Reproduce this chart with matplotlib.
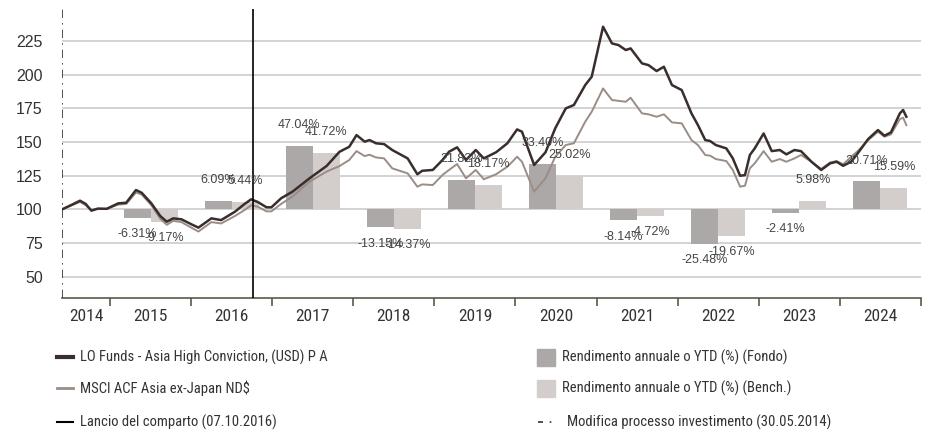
import matplotlib
matplotlib.use("Agg")
import matplotlib.pyplot as plt
from matplotlib import font_manager
from matplotlib.lines import Line2D
from matplotlib.patches import Rectangle

# time points (decimal years)
t = [2014.41, 2014.55, 2014.63, 2014.70, 2014.77, 2014.85, 2014.96, 2015.10, 2015.20, 2015.32,
     2015.39, 2015.51, 2015.62, 2015.70, 2015.78, 2015.88, 2016.00, 2016.09, 2016.25, 2016.37,
     2016.54, 2016.66, 2016.74, 2016.82, 2016.93, 2016.99, 2017.11, 2017.25, 2017.46, 2017.67,
     2017.83, 2017.95, 2018.04, 2018.14, 2018.20, 2018.28, 2018.38, 2018.48, 2018.67, 2018.79,
     2018.85, 2018.98, 2019.10, 2019.18, 2019.28, 2019.39, 2019.51, 2019.61, 2019.76, 2019.90,
     2020.02, 2020.08, 2020.23, 2020.37, 2020.49, 2020.62, 2020.72, 2020.86, 2020.94, 2021.08,
     2021.19, 2021.27, 2021.36, 2021.42, 2021.56, 2021.64, 2021.74, 2021.83, 2021.93, 2022.05,
     2022.17, 2022.25, 2022.34, 2022.40, 2022.47, 2022.60, 2022.68, 2022.77, 2022.83, 2022.89,
     2022.95, 2023.06, 2023.16, 2023.26, 2023.34, 2023.44, 2023.52, 2023.65, 2023.77, 2023.88,
     2023.96, 2024.04, 2024.14, 2024.22, 2024.35, 2024.47, 2024.55, 2024.63, 2024.74, 2024.78,
     2024.82]

fund = [100, 104, 106.4, 104, 99, 100.5, 100.4, 104.4, 104.9, 114.3,
        112.3, 104.4, 95, 90.8, 93.3, 92.6, 89, 86.4, 93.3, 92,
        98.2, 104, 107.4, 105.5, 101.5, 101.5, 108.2, 113.1, 123, 132.1,
        142.7, 146.4, 155.1, 150.2, 151.4, 149, 148.4, 144, 137.8, 126,
        128.6, 129.2, 136.6, 142.7, 146, 136.6, 144, 137.8, 142.3, 149,
        159.3, 157.6, 132.9, 142.3, 160.1, 174.9, 177.4, 192.2, 198.4, 235.5,
        223.1, 221.9, 218.2, 219.4, 208.3, 207, 202.6, 205.8, 192.2, 188.5,
        171.2, 162.5, 151.4, 150.7, 147.7, 145.2, 137.8, 124.9, 125.4, 140.3,
        145.2, 156.3, 143.2, 144, 140.8, 144, 143.2, 135.3, 129.2, 134.1,
        135.3, 132.3, 135.3, 141.5, 152.2, 158.8, 154.6, 157.1, 171.2, 173.7,
        168.7]

bench = [100, 103.5, 105.5, 103, 99.5, 100.5, 100.3, 103.5, 104, 112.5,
         111, 103, 93, 88.5, 91.5, 90.5, 86.5, 83.5, 90.5, 89.5,
         95, 99.5, 103, 102, 98.5, 98.5, 104, 109.5, 120.5, 128,
         132.1, 136.6, 143.2, 139.5, 140.5, 138.5, 137.8, 130.4, 126.7, 116.8,
         118.5, 118, 125.5, 129.2, 133.6, 123, 129.2, 122.3, 126, 131.6,
         139, 135.3, 113.1, 123, 139, 147.7, 149, 165, 172.4, 189.7,
         181.1, 180.5, 179.8, 182.8, 171.2, 170.5, 168.7, 170.5, 164.5, 163.8,
         151.4, 147.7, 140.3, 139.8, 137.3, 135.8, 129.2, 116.8, 117.5, 130.4,
         134.1, 143.2, 135.3, 137.3, 135.3, 137.8, 140.3, 135.3, 130, 134.8,
         135.8, 133.4, 139, 143.2, 151.4, 157.6, 153.9, 155.6, 166.9, 168,
         162.5]

bar_years = [2015, 2016, 2017, 2018, 2019, 2020, 2021, 2022, 2023, 2024]
ret_fund = [-6.31, 6.09, 47.04, -13.15, 21.82, 33.40, -8.14, -25.48, -2.41, 20.71]
ret_bench = [-9.17, 5.44, 41.72, -14.37, 18.17, 25.02, -4.72, -19.67, 5.98, 15.59]

year_labels = ["2014", "2015", "2016", "2017", "2018", "2019", "2020",
               "2021", "2022", "2023", "2024"]

launch_date = 2016.767   # 07.10.2016
change_date = 2014.41    # 30.05.2014
x_end = 2025.0

c_fund = "#3a2e2c"
c_bench = "#9a8d86"
c_bar_fund = "#aca8a7"
c_bar_bench = "#d3cecb"
c_axis = "#5a5a48"
c_text = "#333333"

# condensed face for legend and years, if one is installed
names = {f.name for f in font_manager.fontManager.ttflist}
narrow = "Liberation Sans"
for cand in ["Liberation Sans Narrow", "Roboto Condensed", "Archivo Narrow", "Asap Condensed"]:
    if cand in names:
        narrow = cand
        break
plt.rcParams['font.family'] = ['Liberation Sans', 'DejaVu Sans']

fig = plt.figure(figsize=(9.28, 4.34), dpi=100)
ax = fig.add_axes([0.0670, 0.314, 0.9254, 0.6645])

ax.set_xlim(change_date, x_end)
ax.set_ylim(34.4, 248.4)

# grid
for v in [50, 75, 100, 125, 150, 175, 200, 225]:
    ax.axhline(v, color="#cccccc", lw=1.2, zorder=0)

# bars
w = 1 / 3
for y, rf, rb in zip(bar_years, ret_fund, ret_bench):
    xf = y + 0.5 - w / 2
    xb = y + 0.5 + w / 2
    ax.bar(xf, rf, width=w, bottom=100, color=c_bar_fund, zorder=1)
    ax.bar(xb, rb, width=w, bottom=100, color=c_bar_bench, zorder=1)
    for xx, r in [(xf, rf), (xb, rb)]:
        off = 15 if r > 0 else -12
        ax.annotate(f"{r:.2f}%", (xx, 100 + r), xytext=(0, off), textcoords="offset points",
                    ha="center", va="center", fontsize=9, color="#444444", zorder=5)

# lines
ax.plot(t, bench, color=c_bench, lw=1.4, zorder=3)
ax.plot(t, fund, color=c_fund, lw=1.8, zorder=4)

ax.axvline(launch_date, color="black", lw=1.2, zorder=4)
ax.axvline(change_date, color="#333333", lw=1.2, ls=(0, (5, 3, 1, 3)), zorder=4)

for s in ["top", "right", "left"]:
    ax.spines[s].set_visible(False)
ax.spines["bottom"].set_color(c_axis)
ax.spines["bottom"].set_linewidth(1.2)

ax.set_yticks([50, 75, 100, 125, 150, 175, 200, 225])
ax.tick_params(axis="y", length=0, pad=14, labelsize=11.5, labelcolor=c_text)

ax.set_xticks(list(range(2015, 2026)))
ax.set_xticklabels([])
ax.tick_params(axis="x", which="major", direction="out", length=6, width=1.2, color=c_axis)
mids = [(change_date + 2015) / 2] + [y + 0.5 for y in range(2015, 2025)]
ax.set_xticks(mids, minor=True)
ax.set_xticklabels(year_labels, minor=True, fontsize=12.5, family=narrow, color=c_text)
ax.tick_params(axis="x", which="minor", length=0, pad=8)

# legend, drawn in figure pixels
H = 434.0
def fx(px):
    return px / 928.0
def fy(py):
    return 1 - py / H

rows = [357, 388, 422]
left_items = [("LO Funds - Asia High Conviction, (USD) P A", c_fund, 3.0),
              ("MSCI ACF Asia ex-Japan ND$", c_bench, 2.0),
              ("Lancio del comparto (07.10.2016)", "black", 1.5)]
for (lab, col, lw), r in zip(left_items, rows):
    fig.add_artist(Line2D([fx(57), fx(73)], [fy(r), fy(r)], color=col, lw=lw))
    fig.text(fx(80), fy(r), lab, ha="left", va="center", fontsize=10.5, family=narrow, color=c_text)

right_items = [("Rendimento annuale o YTD (%) (Fondo)", c_bar_fund),
               ("Rendimento annuale o YTD (%) (Bench.)", c_bar_bench)]
for (lab, col), r in zip(right_items, rows[:2]):
    fig.add_artist(Rectangle((fx(537), fy(r + 8.5)), fx(18), 17 / H, color=col))
    fig.text(fx(562), fy(r), lab, ha="left", va="center", fontsize=10.5, family=narrow, color=c_text)

fig.add_artist(Line2D([fx(538), fx(555)], [fy(rows[2]), fy(rows[2])], color="#333333", lw=1.2,
                      ls=(0, (3, 4, 1, 4))))
fig.text(fx(567), fy(rows[2]), "Modifica processo investimento (30.05.2014)", ha="left", va="center",
         fontsize=10.5, family=narrow, color=c_text)

fig.savefig("out.png", dpi=100)
